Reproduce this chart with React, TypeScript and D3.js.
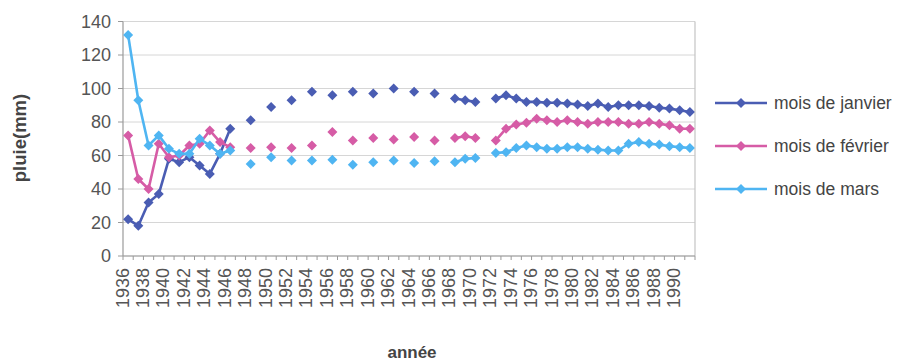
import React from "react";
import * as d3 from "d3";

// Monthly rainfall (mm) per year, 1936–1991; null where no measurement exists
const years: number[] = d3.range(1936, 1992);

const janvier: (number | null)[] = [
  22, 18, 32, 37, 58, 56, 59, 54, 49, 61, 76,
  null, 81, null, 89, null, 93, null, 98, null, 96, null, 98, null, 97, null, 100, null, 98, null, 97, null,
  94, 93, 92, null,
  94, 96, 94, 92, 92, 91.5, 91.5, 91, 90.5, 89.5, 91, 89, 90, 90, 90, 89.5, 88.5, 88, 87, 86,
];

const fevrier: (number | null)[] = [
  72, 46, 40, 67, 59, 60, 66, 67, 75, 68, 65,
  null, 64.5, null, 65, null, 64.5, null, 66, null, 74, null, 69, null, 70.5, null, 69.5, null, 71, null, 69, null,
  70.5, 71.5, 70.5, null,
  69, 76, 78.5, 79.5, 82, 81, 80, 81, 80, 79, 80, 80, 80, 79, 79, 80, 79, 78, 76, 76,
];

const mars: (number | null)[] = [
  132, 93, 66, 72, 64, 61, 61, 70, 66, 61, 63,
  null, 55, null, 59, null, 57, null, 57, null, 57.5, null, 54.5, null, 56, null, 57, null, 55.5, null, 56.5, null,
  56, 58, 58.5, null,
  61.5, 62, 64.5, 66, 65, 64, 64, 65, 65, 64, 63.5, 63, 63, 67, 68, 67, 66.5, 65.5, 65, 64.5,
];

const seriesNames: string[] = ["mois de janvier", "mois de février", "mois de mars"];
const seriesColors: string[] = ["#4a5db3", "#d65ca6", "#4fb5f2"];
const yTicks: number[] = [0, 20, 40, 60, 80, 100, 120, 140];
const xLabelYears: number[] = d3.range(1936, 1991, 2);

const W = 910;
const H = 364;
const plot = { left: 123, right: 695, top: 21.5, bottom: 256 };

const FONT = "'Liberation Sans', Arial, sans-serif";

function diamond(cx: number, cy: number, r: number) {
  return `M${cx},${cy - r}L${cx + r},${cy}L${cx},${cy + r}L${cx - r},${cy}Z`;
}

export default function App() {
  const x = d3
    .scaleBand<number>()
    .domain(years)
    .range([plot.left, plot.right])
    .paddingInner(0)
    .paddingOuter(0);
  const bw = x.bandwidth();
  const cx = (yr: number) => (x(yr) as number) + bw / 2;

  const y = d3.scaleLinear().domain([0, 140]).range([plot.bottom, plot.top]);

  const allSeries = [janvier, fevrier, mars];

  const line = d3
    .line<number | null>()
    .defined((d) => d != null)
    .x((_, i) => cx(years[i]))
    .y((d) => y(d as number));

  const boundaries = d3.range(0, years.length + 1).map((i) => plot.left + i * bw);

  const legendRows = [103, 146, 189];

  return (
    <svg
      width={W}
      height={H}
      viewBox={`0 0 ${W} ${H}`}
      style={{ position: "fixed", left: 0, top: 0, background: "#fff" }}
      fontFamily={FONT}
    >
      <rect x={0} y={0} width={W} height={H} fill="#fff" />

      {/* horizontal gridlines */}
      {yTicks.map((t) => (
        <line
          key={`g${t}`}
          x1={plot.left}
          x2={plot.right}
          y1={y(t)}
          y2={y(t)}
          stroke="#d6d6d6"
          strokeWidth={1}
        />
      ))}
      {/* plot area right border */}
      <line x1={plot.right} x2={plot.right} y1={plot.top} y2={plot.bottom} stroke="#c4c4c4" strokeWidth={1.2} />

      {/* y axis */}
      <line x1={plot.left} x2={plot.left} y1={plot.top} y2={plot.bottom} stroke="#9a9a9a" strokeWidth={1.2} />
      {yTicks.map((t) => (
        <g key={`yt${t}`}>
          <line x1={plot.left - 5} x2={plot.left} y1={y(t)} y2={y(t)} stroke="#9a9a9a" strokeWidth={1} />
          <text
            x={111}
            y={y(t)}
            dy="0.36em"
            textAnchor="end"
            fontSize={18}
            fill="#555"
          >
            {t}
          </text>
        </g>
      ))}

      {/* x axis */}
      <line x1={plot.left} x2={plot.right} y1={plot.bottom} y2={plot.bottom} stroke="#9a9a9a" strokeWidth={1.2} />
      {boundaries.map((bx, i) => (
        <line key={`xt${i}`} x1={bx} x2={bx} y1={plot.bottom} y2={plot.bottom + 4} stroke="#9a9a9a" strokeWidth={1} />
      ))}
      {xLabelYears.map((yr) => (
        <text
          key={`xl${yr}`}
          transform={`translate(${cx(yr) + 0.5},${plot.bottom + 12}) rotate(-90)`}
          textAnchor="end"
          fontSize={18}
          fill="#555"
        >
          {yr}
        </text>
      ))}

      {/* series: lines where years are consecutive, diamond markers on every value */}
      {allSeries.map((s, si) => (
        <g key={`s${si}`}>
          <path d={line(s) || ""} fill="none" stroke={seriesColors[si]} strokeWidth={2.6} strokeLinejoin="round" />
          {s.map((v, i) =>
            v == null ? null : (
              <path key={`m${si}-${i}`} d={diamond(cx(years[i]), y(v), 5)} fill={seriesColors[si]} />
            )
          )}
        </g>
      ))}

      {/* axis titles */}
      <text
        transform={`translate(26,138) rotate(-90)`}
        textAnchor="middle"
        fontSize={18.5}
        fontWeight="bold"
        fill="#444"
      >
        pluie(mm)
      </text>
      <text x={412} y={358} textAnchor="middle" fontSize={17} fontWeight="bold" fill="#444">
        année
      </text>

      {/* legend */}
      {seriesNames.map((name, i) => (
        <g key={`lg${i}`}>
          <line x1={715} x2={767} y1={legendRows[i]} y2={legendRows[i]} stroke={seriesColors[i]} strokeWidth={2.6} />
          <path d={diamond(741, legendRows[i], 5)} fill={seriesColors[i]} />
          <text x={774} y={legendRows[i]} dy="0.36em" fontSize={17.5} fill="#444">
            {name}
          </text>
        </g>
      ))}
    </svg>
  );
}
